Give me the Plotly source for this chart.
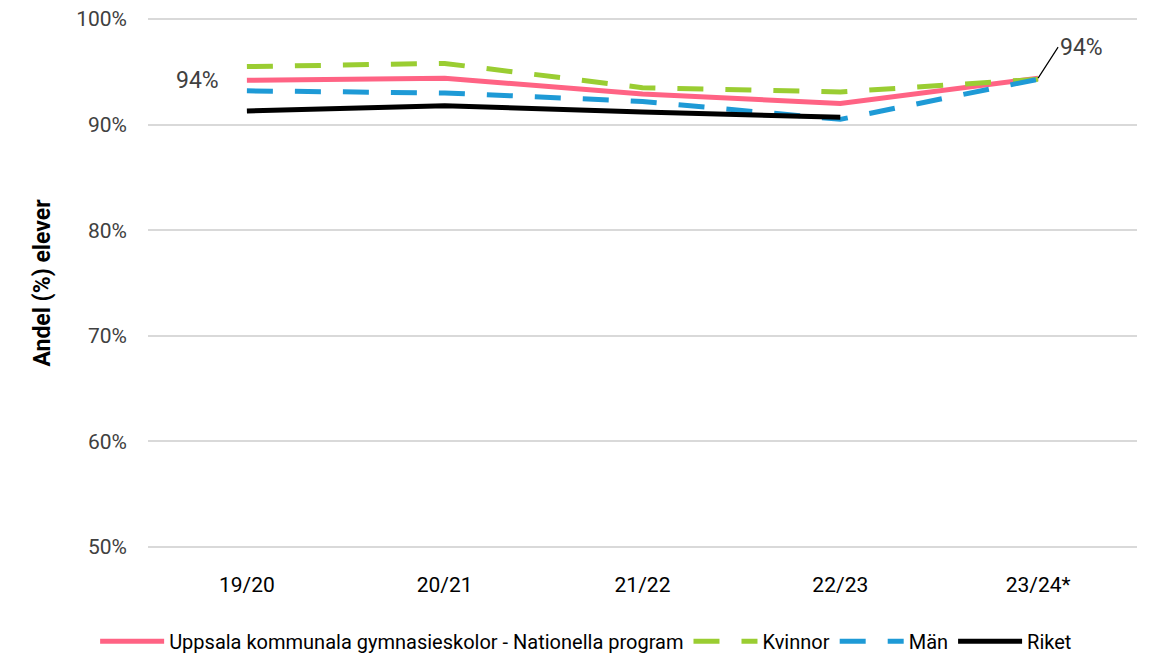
import plotly.graph_objects as go

years = ["19/20", "20/21", "21/22", "22/23", "23/24*"]
uppsala = [94.2, 94.4, 92.9, 92.0, 94.4]
kvinnor = [95.5, 95.8, 93.5, 93.1, 94.3]
man = [93.2, 93.0, 92.2, 90.5, 94.3]
riket = [91.3, 91.8, 91.2, 90.7, None]
y_ticks = [50, 60, 70, 80, 90, 100]
y_labels = ["50%", "60%", "70%", "80%", "90%", "100%"]

FONT = "Roboto, sans-serif"

fig = go.Figure()
fig.add_trace(go.Scatter(x=years, y=uppsala, mode="lines", name="Uppsala kommunala gymnasieskolor - Nationella program",
                         line=dict(color="#ff6384", width=5)))
fig.add_trace(go.Scatter(x=years, y=kvinnor, mode="lines", name="Kvinnor",
                         line=dict(color="#9acd32", width=5, dash="26px,22px")))
fig.add_trace(go.Scatter(x=years, y=man, mode="lines", name="Män",
                         line=dict(color="#1e9ad6", width=5, dash="26px,22px")))
fig.add_trace(go.Scatter(x=years, y=riket, mode="lines", name="Riket",
                         line=dict(color="#000000", width=5)))

# data labels on the Uppsala series
fig.add_annotation(x=years[0], y=uppsala[0], text="94%", showarrow=False,
                   xanchor="right", xshift=-26, font=dict(size=23, color="#404040"))
fig.add_annotation(x=years[-1], y=uppsala[-1], text="94%", showarrow=True,
                   arrowhead=0, arrowwidth=1.2, arrowcolor="#000", ax=20, ay=-31,
                   xanchor="left", font=dict(size=23, color="#404040"))

fig.update_layout(
    width=1155, height=651,
    margin=dict(l=140, r=26, t=10, b=111, autoexpand=False),
    plot_bgcolor="white", paper_bgcolor="white",
    font=dict(family=FONT, size=21, color="#404040"),
    showlegend=True,
    legend=dict(orientation="h", x=0.443, xanchor="center", y=-0.176, yanchor="middle",
                font=dict(size=20, color="#000"), itemwidth=64),
    hovermode=False,
)
fig.update_xaxes(range=[-0.5, 4.5], showgrid=False, showline=False, ticks="", automargin=False,
                 ticklabelstandoff=22, tickfont=dict(color="#000"))
fig.update_yaxes(range=[49.9, 100.1], tickmode="array", tickvals=y_ticks, ticktext=y_labels,
                 ticklabeloverflow="allow", gridcolor="#d9d9d9", gridwidth=1.5,
                 zeroline=False, showline=False, automargin=False, ticklabelstandoff=20,
                 title=dict(text="<b>Andel (%) elever</b>", font=dict(size=23, color="#000"), standoff=19))

fig.write_html("out.html")
